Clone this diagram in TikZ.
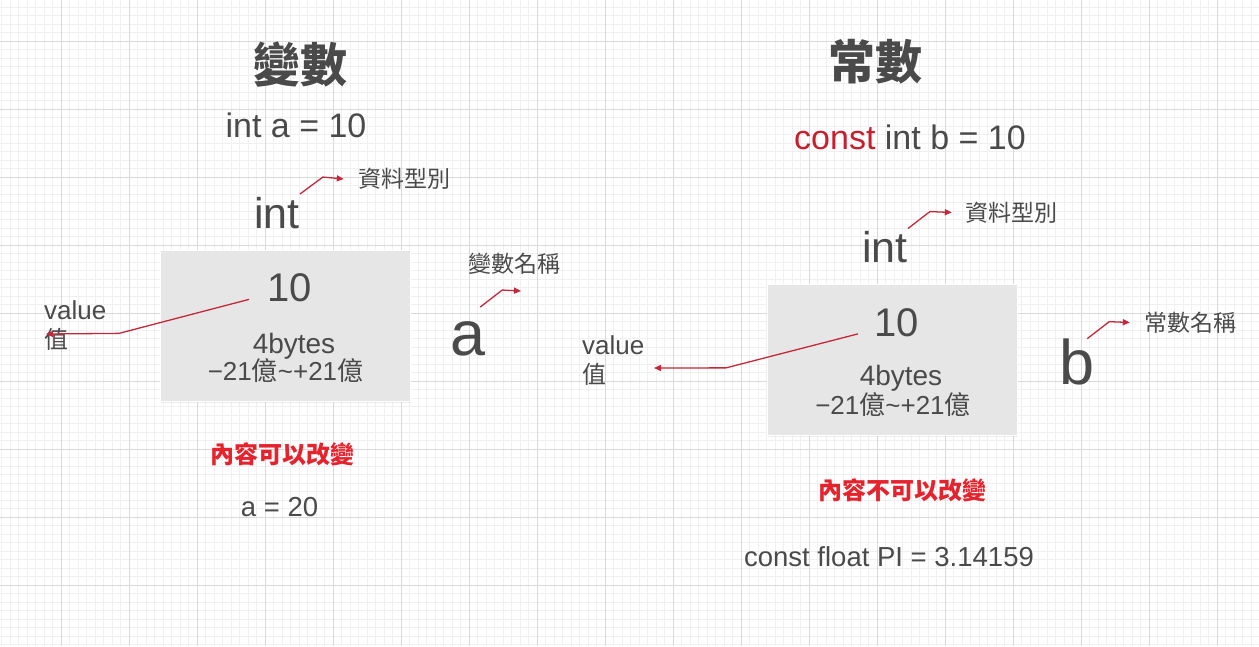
\documentclass[tikz,border=0pt]{standalone}
\usepackage{fontspec}
\setmainfont{Liberation Sans}
\newfontfamily\cjk{Noto Sans CJK TC}
\usetikzlibrary{arrows.meta, positioning, shadows}

\definecolor{inkgray}{HTML}{4A4A4A}
\definecolor{arrred}{HTML}{C4283A}
\definecolor{keyred}{HTML}{C81F2E}
\definecolor{warnred}{HTML}{E6232D}
\definecolor{boxfill}{HTML}{E6E6E6}
\definecolor{minorgrid}{HTML}{F0F0F0}
\definecolor{majorgrid}{HTML}{DADADA}

\begin{document}
\begin{tikzpicture}[
  x=1pt, y=-1pt,
  minorline/.style={draw=minorgrid, line width=1pt},
  majorline/.style={draw=majorgrid, line width=1pt},
  txt/.style={inner sep=0pt, text=inkgray},
  title/.style={txt, font=\cjk\bfseries\fontsize{47}{50}\selectfont},
  code/.style={txt, font=\fontsize{34}{38}\selectfont},
  typetxt/.style={txt, font=\fontsize{43}{46}\selectfont},
  label/.style={txt, font=\cjk\fontsize{23}{26}\selectfont},
  memcell/.style={draw=white, line width=1pt, fill=boxfill, minimum width=250pt, minimum height=151pt,
    drop shadow={opacity=0.14, shadow xshift=1pt, shadow yshift=-1.5pt}},
  numtxt/.style={txt, font=\fontsize{40}{44}\selectfont},
  sizetxt/.style={txt, font=\fontsize{28}{30}\selectfont},
  rangetxt/.style={txt, font=\fontsize{26}{28}\selectfont},
  valtxt/.style={txt, align=left, anchor=north west, font=\fontsize{26}{29.5}\selectfont},
  nametxt/.style={txt, font=\fontsize{63}{66}\selectfont},
  warn/.style={inner sep=0pt, text=warnred, font=\cjk\bfseries\fontsize{24}{26}\selectfont},
  smallcode/.style={txt, font=\fontsize{27.5}{30}\selectfont},
  redarr/.style={draw=arrred, line width=1.3pt, -{Triangle[length=7pt, width=6pt]}}
]
\fill[white] (0,0) rectangle (1259,646);
\useasboundingbox (0,0) rectangle (1259,646);

\foreach \gx in {0,...,147} \draw[minorline] ({1.8+8.5*\gx},0) -- ({1.8+8.5*\gx},646);
\foreach \gy in {0,...,75} \draw[minorline] (0,{7.3+8.5*\gy}) -- (1259,{7.3+8.5*\gy});
\foreach \gx in {0,...,17} \draw[majorline] ({61.3+68*\gx},0) -- ({61.3+68*\gx},646);
\foreach \gy in {0,...,8} \draw[majorline] (0,{41.3+68*\gy}) -- (1259,{41.3+68*\gy});

% variable side
\node[title] (titleA) at (300,64) {變數};
\node[code] (declA) at (296,125.5) {int a = 10};
\node[typetxt] (intA) at (277,213) {int};
\node[label] (kindA) at (404,179) {資料型別};
\node[memcell] (memA) at (285,325.5) {};
\node[numtxt] (numA) at (289.5,288) {10};
\node[sizetxt, anchor=base] (bytesA) at (294,353) {4bytes};
\node[rangetxt] (rangeA) at (285.5,371) {−21{\cjk 億}\textasciitilde{}+21{\cjk 億}};
\node[valtxt] (valA) at (44,300) {value\\{\cjk\fontsize{24}{29.5}\selectfont 值}};
\node[nametxt] (varA) at (468.5,338.5) {a};
\node[label] (nameA) at (514.5,264) {變數名稱};
\node[warn] (warnA) at (282,454) {內容可以改變};
\node[smallcode] (setA) at (279.5,507) {a = 20};

% constant side
\node[title] (titleB) at (875,62) {常數};
\node[code] (declB) at (910,137.5) {{\color{keyred}const} int b = 10};
\node[typetxt] (intB) at (885,247.5) {int};
\node[label] (kindB) at (1011,212.5) {資料型別};
\node[memcell] (memB) at (892,359.5) {};
\node[numtxt] (numB) at (896.5,322.5) {10};
\node[sizetxt, anchor=base] (bytesB) at (901,385) {4bytes};
\node[rangetxt] (rangeB) at (893,405) {−21{\cjk 億}\textasciitilde{}+21{\cjk 億}};
\node[valtxt] (valB) at (582,335) {value\\{\cjk\fontsize{24}{29.5}\selectfont 值}};
\node[nametxt] (varB) at (1077.5,362) {b};
\node[label] (nameB) at (1190,322.5) {常數名稱};
\node[warn] (warnB) at (902,490) {內容不可以改變};
\node[smallcode] (setB) at (889,557) {const float PI = 3.14159};

\coordinate (valTipA) at (46,334);
\coordinate (valTipB) at (654,368);
\coordinate (nameTipA) at (521,291);

\draw[redarr] ([yshift=3pt]intA.north east) -- ++(23,-17) -- ([xshift=-14pt]kindA.west);
\draw[redarr] ([yshift=3pt]intB.north east) -- ++(22,-17) -- ([xshift=-13pt]kindB.west);
\draw[redarr] ([shift={(-18,-3)}]numA.south west) -- ++(-130,34) -- (valTipA);
\draw[redarr] ([shift={(-16,-3)}]numB.south west) -- ++(-132,34) -- (valTipB);
\draw[redarr] ([shift={(-6,-14)}]varA.north east) -- ++(22,-17) -- (nameTipA);
\draw[redarr] ([shift={(-8,0)}]varB.north east) -- ++(22,-17) -- ([xshift=-14pt]nameB.west);
\end{tikzpicture}
\end{document}
